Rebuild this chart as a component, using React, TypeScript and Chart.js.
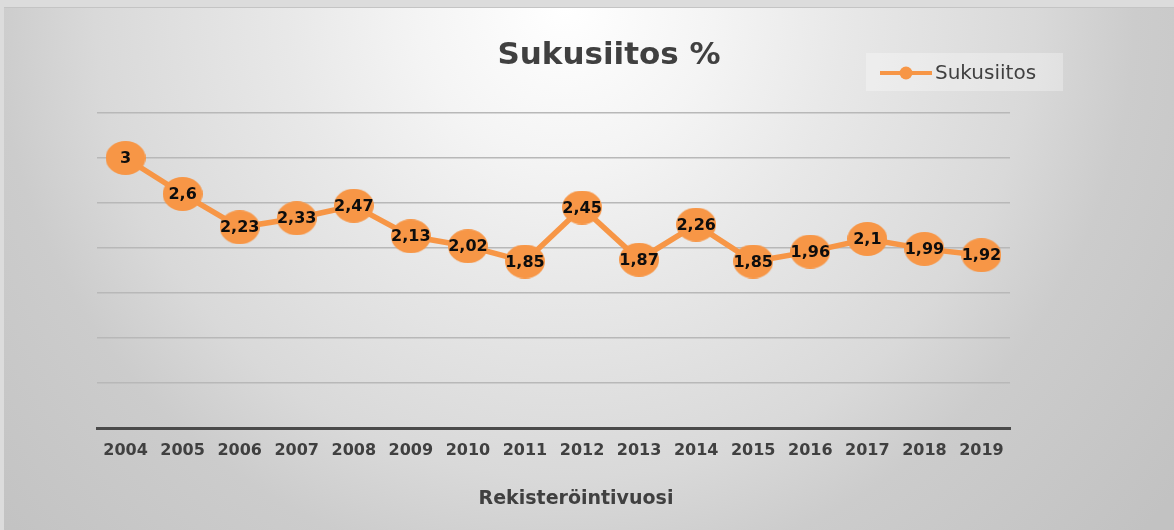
import React, { useEffect, useRef } from 'react';
import { Chart, registerables } from 'chart.js';

Chart.register(...registerables);

const years = ['2004', '2005', '2006', '2007', '2008', '2009', '2010', '2011', '2012', '2013', '2014', '2015', '2016', '2017', '2018', '2019'];
const values = [3, 2.6, 2.23, 2.33, 2.47, 2.13, 2.02, 1.85, 2.45, 1.87, 2.26, 1.85, 1.96, 2.1, 1.99, 1.92];
const seriesName = 'Sukusiitos';
const chartTitle = 'Sukusiitos %';
const xAxisTitle = 'Rekisteröintivuosi';
const yMin = 0;
const yMax = 3.5;
const yStep = 0.5;

const ORANGE = '#F79646';
const TEXT = '#404040';
const FONT = '"DejaVu Sans", sans-serif';

const fmt = (v: number) => String(v).replace('.', ',');

const textPlugin = {
  id: 'customText',
  afterDatasetsDraw(chart: any) {
    const ctx = chart.ctx as CanvasRenderingContext2D;
    const meta = chart.getDatasetMeta(0);
    ctx.save();
    ctx.font = `bold 16px ${FONT}`;
    ctx.fillStyle = '#0d0d0d';
    ctx.textAlign = 'center';
    ctx.textBaseline = 'middle';
    meta.data.forEach((pt: any, i: number) => {
      ctx.fillText(fmt(values[i]), pt.x, pt.y + 1);
    });
    ctx.restore();
  },
  afterDraw(chart: any) {
    const ctx = chart.ctx as CanvasRenderingContext2D;
    ctx.save();
    ctx.font = `bold 31px ${FONT}`;
    ctx.fillStyle = TEXT;
    ctx.textAlign = 'center';
    ctx.textBaseline = 'alphabetic';
    ctx.fillText(chartTitle, 609, 64);
    ctx.font = `bold 19px ${FONT}`;
    ctx.fillText(xAxisTitle, 576, 504);
    ctx.fillStyle = 'rgba(255,255,255,0.3)';
    ctx.fillRect(866, 53, 197, 38);
    ctx.strokeStyle = ORANGE;
    ctx.lineWidth = 4;
    ctx.beginPath();
    ctx.moveTo(880, 73);
    ctx.lineTo(932, 73);
    ctx.stroke();
    ctx.fillStyle = ORANGE;
    ctx.beginPath();
    ctx.arc(906, 73, 6.5, 0, Math.PI * 2);
    ctx.fill();
    ctx.font = `20px ${FONT}`;
    ctx.fillStyle = TEXT;
    ctx.textAlign = 'left';
    ctx.fillText(seriesName, 935, 79);
    ctx.restore();
  },
};

export default function App() {
  const canvasRef = useRef<HTMLCanvasElement | null>(null);

  useEffect(() => {
    if (!canvasRef.current) return;
    const marker = document.createElement('canvas');
    marker.width = 40;
    marker.height = 34;
    const mctx = marker.getContext('2d')!;
    mctx.fillStyle = ORANGE;
    mctx.beginPath();
    mctx.ellipse(20, 17, 20, 17, 0, 0, Math.PI * 2);
    mctx.fill();

    const chart = new Chart(canvasRef.current, {
      type: 'line',
      data: {
        labels: years,
        datasets: [
          {
            label: seriesName,
            data: values,
            borderColor: ORANGE,
            backgroundColor: ORANGE,
            borderWidth: 5.5,
            pointStyle: marker as any,
            pointRadius: 19,
            tension: 0,
          },
        ],
      },
      options: {
        responsive: false,
        animation: false,
        events: [],
        layout: { padding: { left: 97, right: 164, top: 113, bottom: 56.8 } },
        plugins: {
          legend: { display: false },
          tooltip: { enabled: false },
          title: { display: false },
        },
        scales: {
          x: {
            offset: true,
            grid: { display: false, drawTicks: false },
            border: { display: true, color: '#4a4a4a', width: 3 },
            ticks: {
              color: TEXT,
              font: { family: FONT, size: 16, weight: 'bold' },
              padding: 13,
              maxRotation: 0,
              autoSkip: false,
            },
          },
          y: {
            min: yMin,
            max: yMax,
            ticks: { display: false, stepSize: yStep },
            grid: {
              drawTicks: false,
              lineWidth: 1.5,
              color: (c: any) => (c.tick && c.tick.value === 0 ? 'rgba(0,0,0,0)' : '#b8b8b8'),
            },
            border: { display: false },
          },
        },
      },
      plugins: [textPlugin],
    });
    return () => chart.destroy();
  }, []);

  return (
    <div style={{ position: 'fixed', left: 0, top: 0, width: 1174, height: 530, background: '#dcdcdc', overflow: 'hidden' }}>
      <div
        style={{
          position: 'absolute',
          left: 4,
          top: 7,
          right: 0,
          bottom: 0,
          borderTop: '1px solid #c4c4c4',
          background:
            'radial-gradient(circle at 561px 0px, #ffffff 0px, #f4f4f4 150px, #e8e8e8 280px, #d9d9d9 470px, #cccccc 570px, #c2c2c2 780px)',
        }}
      />
      <canvas
        ref={canvasRef}
        width={1174}
        height={530}
        style={{ position: 'absolute', left: 0, top: 0, width: 1174, height: 530 }}
      />
    </div>
  );
}
